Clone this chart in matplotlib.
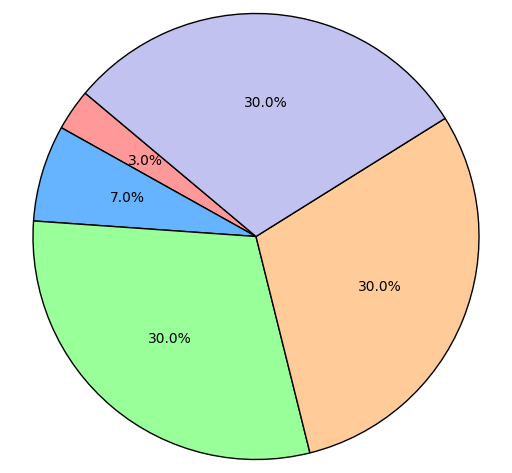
import matplotlib
matplotlib.use('Agg')
import matplotlib.pyplot as plt

labels = ['A', 'B', 'C', 'D', 'E']
sizes = [3, 7, 30, 30, 30]
colors = ['#ff9999', '#66b3ff', '#99ff99', '#ffcc99', '#c2c2f0']

fig = plt.figure(figsize=(5.12, 4.73), dpi=100)
ax = fig.add_axes([0, 0, 1, 1])
ax.pie(sizes, colors=colors, autopct='%1.1f%%', startangle=140,
       wedgeprops={'edgecolor': 'black', 'linewidth': 1})
half_h = 236.5 / 223
ax.set_ylim(-half_h, half_h)
ax.set_xlim(-half_h * 512 / 473, half_h * 512 / 473)
ax.set_aspect('equal')
ax.axis('off')
fig.savefig('out.png', dpi=100)
